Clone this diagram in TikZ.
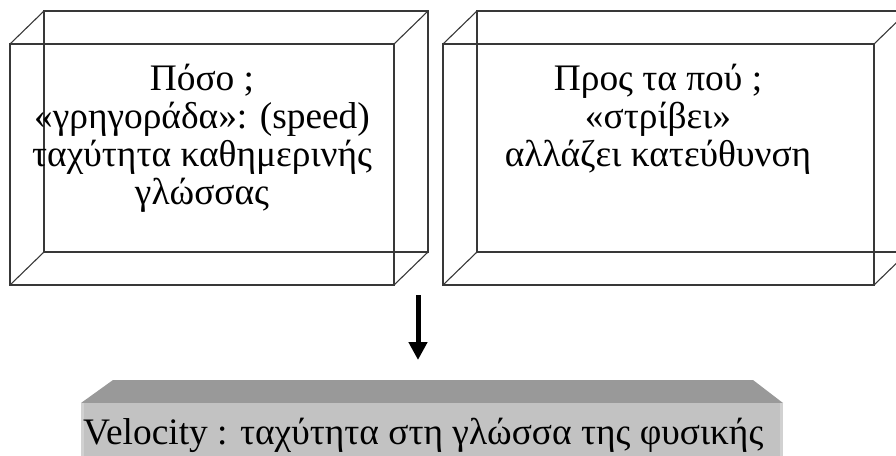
\documentclass[tikz,border=0pt]{standalone}
\usepackage{fontspec}
\setmainfont{Liberation Serif}
\usetikzlibrary{arrows.meta}
\begin{document}
\begin{tikzpicture}[x=1pt,y=-1pt,
  wire/.style={draw=black!78, line width=1.1pt},
  boxtext/.style={font=\fontsize{37.4}{38}\selectfont, align=center, anchor=base, inner sep=0pt},
  bartext/.style={font=\fontsize{37.4}{44}\selectfont, anchor=base west, inner sep=0pt},
  topface/.style={fill=black!40},
  frontface/.style={fill=black!24},
  arrowline/.style={line width=5pt, -{Triangle[length=18pt,width=18pt]}}
]
\useasboundingbox (0,0) rectangle (896,455);
\clip (0,0) rectangle (896,455);

% left wireframe box: front face, back face and the four joining edges
\draw[wire] (10,44) rectangle (394,285);
\draw[wire] (44,11) rectangle (428,252);
\draw[wire] (10,44) -- (44,11) (394,44) -- (428,11)
            (10,285) -- (44,252) (394,285) -- (428,252);
% the base anchor of a multi-line node sits on its last line
\node[boxtext] (speed) at (202,204)
  {Πόσο ;\\«γρηγοράδα»: (speed)\\ταχύτητα καθημερινής\\γλώσσας};

% right wireframe box
\draw[wire] (443,44) rectangle (874,285);
\draw[wire] (477,11) rectangle (908,252);
\draw[wire] (443,44) -- (477,11) (874,44) -- (908,11)
            (443,285) -- (477,252) (874,285) -- (908,252);
\node[boxtext] (turn) at (658,166)
  {Προς τα πού ;\\«στρίβει»\\αλλάζει κατεύθυνση};

% bevelled bar at the bottom
\fill[topface] (81,403) -- (113,380) -- (753,380) -- (783,403) -- cycle;
\fill[frontface] (81,403) rectangle (783,460);
\fill[black!18] (81,403) rectangle (84,460);
\fill[black!18] (780,403) rectangle (783,460);
\node[bartext] (velocity) at (83,444)
  {Velocity : ταχύτητα στη γλώσσα της φυσικής};

% arrow between the boxes and the bar
\coordinate (arrowtop) at (418,295);
\coordinate (arrowtip) at (418,360);
\draw[arrowline] (arrowtop) -- (arrowtip);
\end{tikzpicture}
\end{document}
